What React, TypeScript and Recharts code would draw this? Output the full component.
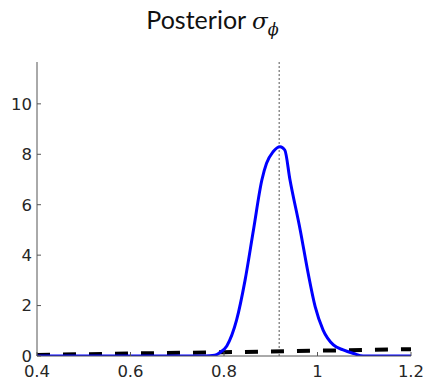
import { Line, LineChart, ReferenceLine, XAxis, YAxis } from "recharts";

// posterior density (blue)
const postX = [0.4, 0.5, 0.6, 0.7, 0.76, 0.78, 0.79, 0.806, 0.827, 0.845, 0.863, 0.881, 0.891, 0.905, 0.92, 0.93, 0.941, 0.963, 0.98, 0.995, 1.012, 1.034, 1.055, 1.077, 1.098, 1.15, 1.2];
const postY = [0, 0, 0, 0, 0, 0.03, 0.12, 0.4, 1.43, 3.0, 5.0, 6.98, 7.64, 8.1, 8.3, 8.17, 7.0, 5.0, 3.28, 1.96, 1.03, 0.44, 0.24, 0.1, 0, 0, 0];

// prior density (black dashed)
const priorX = [0.4, 0.6, 0.8, 1.0, 1.2];
const priorY = [0.04, 0.1, 0.15, 0.21, 0.27];

const xTicks = [0.4, 0.6, 0.8, 1, 1.2];
const yTicks = [0, 2, 4, 6, 8, 10];
const trueValue = 0.918;

const posterior = postX.map((x, i) => ({ x, y: postY[i] }));
const prior = priorX.map((x, i) => ({ x, y: priorY[i] }));

const tickStyle = { fill: "#262626", fontSize: 16.5, fontFamily: "DejaVu Sans" };

export default function App() {
  return (
    <div style={{ position: "absolute", left: 0, top: 0, width: 425, height: 381, background: "#fff" }}>
      <div
        style={{
          position: "absolute",
          left: 0,
          top: 4,
          width: 425,
          textAlign: "center",
          fontFamily: "Lato",
          fontSize: 25,
          color: "#111",
        }}
      >
        Posterior <span style={{ fontFamily: "DejaVu Serif", fontStyle: "italic", fontSize: 23 }}>σ</span>
        <sub style={{ fontFamily: "DejaVu Serif", fontStyle: "italic", fontSize: 16, verticalAlign: "-6px" }}>ϕ</sub>
      </div>
      <LineChart width={425} height={381} margin={{ top: 62, right: 14, left: 0, bottom: 0 }}>
        <XAxis
          dataKey="x"
          type="number"
          domain={[0.4, 1.2]}
          ticks={xTicks}
          allowDataOverflow
          height={25}
          tick={tickStyle}
          tickSize={-4}
          tickMargin={13}
          stroke="#555"
          tickFormatter={(v: number) => String(v)}
        />
        <YAxis
          type="number"
          domain={[0, 11.66]}
          ticks={yTicks}
          allowDataOverflow
          width={37}
          tick={tickStyle}
          tickSize={-4}
          tickMargin={9}
          stroke="#555"
        />
        <ReferenceLine x={trueValue} stroke="#555" strokeDasharray="2 2" strokeWidth={1} />
        <Line
          data={prior}
          dataKey="y"
          type="linear"
          stroke="#000"
          strokeWidth={4}
          strokeDasharray="13 13"
          dot={false}
          isAnimationActive={false}
        />
        <Line
          data={posterior}
          dataKey="y"
          type="monotone"
          stroke="#0000ff"
          strokeWidth={3}
          dot={false}
          isAnimationActive={false}
        />
      </LineChart>
    </div>
  );
}
